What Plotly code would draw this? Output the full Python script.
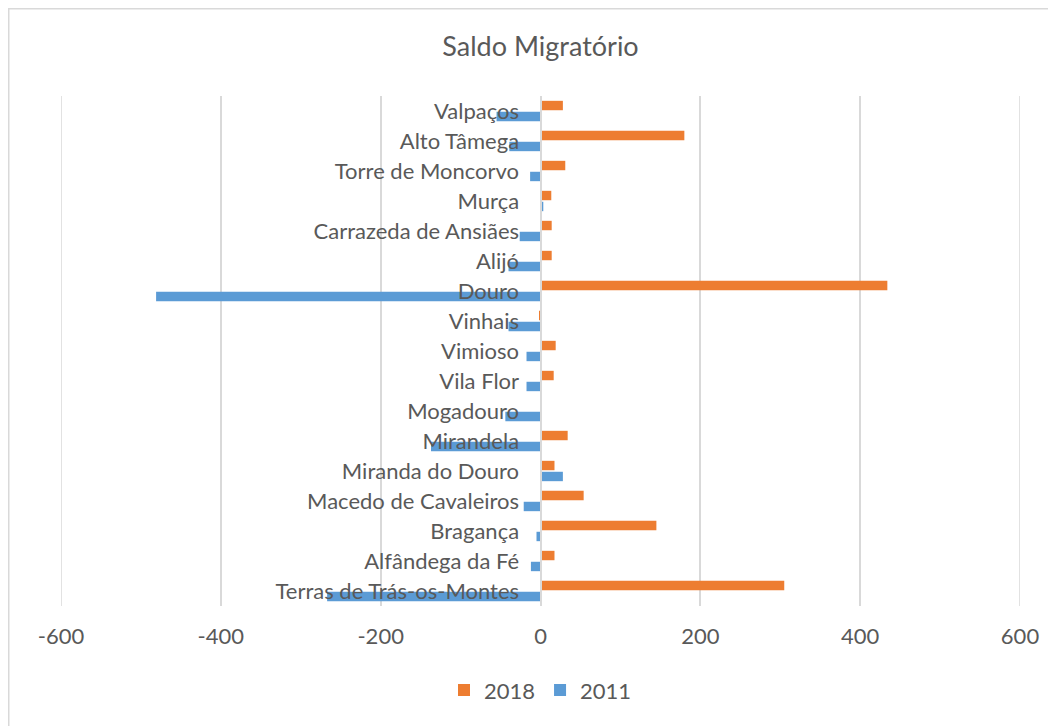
import plotly.graph_objects as go

categories = [
    "Terras de Trás-os-Montes", "Alfândega da Fé", "Bragança", "Macedo de Cavaleiros",
    "Miranda do Douro", "Mirandela", "Mogadouro", "Vila Flor", "Vimioso", "Vinhais",
    "Douro", "Alijó", "Carrazeda de Ansiães", "Murça", "Torre de Moncorvo",
    "Alto Tâmega", "Valpaços",
]
values_2018 = [305, 17.5, 145, 54, 17.5, 34, 0, 16.5, 19, -1.5,
               434, 14, 14, 13.5, 31, 180, 28]
values_2011 = [-267, -12, -5, -21, 28, -137, -44, -17.5, -17.5, -40,
               -481, -40, -26, 3.5, -13, -39, -55]
x_ticks = [-600, -400, -200, 0, 200, 400, 600]

ORANGE = "#ED7D31"
BLUE = "#5B9BD5"
TXT = "#595959"
GRID = "#D9D9D9"
FONT = "Lato, Open Sans, sans-serif"
FS = 22

# page has an 8px body margin; figure is sized/offset to compensate
W, H = 1048, 718
L, T = 53, 88
PW, PH = 959, 510

fig = go.Figure()
fig.add_trace(go.Bar(y=categories, x=values_2011, orientation="h", name="2011",
                     marker=dict(color=BLUE, line=dict(width=0)), legendrank=2))
fig.add_trace(go.Bar(y=categories, x=values_2018, orientation="h", name="2018",
                     marker=dict(color=ORANGE, line=dict(width=0)), legendrank=1))

shapes = [dict(type="rect", xref="paper", yref="paper",
               x0=(0.75 - L) / PW, x1=(W + 10 - L) / PW,
               y0=-(H - T - PH + 10) / PH, y1=(T + PH - 0.75) / PH,
               line=dict(color=GRID, width=1.5), fillcolor="rgba(0,0,0,0)", layer="below")]
# edge gridlines (plotly drops gridlines on the range boundary)
for v in (x_ticks[0], x_ticks[-1]):
    shapes.append(dict(type="line", xref="x", yref="paper", x0=v, x1=v, y0=0, y1=1,
                       line=dict(color=GRID, width=1.5), layer="below"))

fig.update_layout(
    width=W, height=H,
    margin=dict(l=L, r=W - L - PW, t=T, b=H - T - PH),
    paper_bgcolor="white", plot_bgcolor="white",
    font=dict(family=FONT, color=TXT, size=FS),
    barmode="group", bargap=0.27, bargroupgap=0.14,
    title=dict(text="Saldo Migratório", x=0.5, xref="paper", xanchor="center",
               y=1 - 39 / H, yref="container", yanchor="middle",
               font=dict(size=27, color=TXT, family=FONT)),
    xaxis=dict(range=[-600, 600], tickvals=x_ticks, ticktext=[str(v) for v in x_ticks],
               showgrid=True, gridcolor=GRID, gridwidth=1.5,
               zeroline=False, showline=False, ticks="", ticklabelstandoff=15,
               tickfont=dict(size=FS, color=TXT), fixedrange=True),
    yaxis=dict(type="category", anchor="free", position=0.5, side="left",
               showline=True, linecolor=GRID, linewidth=2, showgrid=False,
               zeroline=False, ticks="", ticklabelstandoff=16,
               tickfont=dict(size=FS, color=TXT), automargin=False,
               range=[-0.5, len(categories) - 0.5]),
    legend=dict(orientation="h", x=0.5, xanchor="center", y=-0.165, yanchor="middle",
                font=dict(size=FS, color=TXT), itemwidth=30, traceorder="normal"),
    shapes=shapes,
)

fig.write_html("out.html")
